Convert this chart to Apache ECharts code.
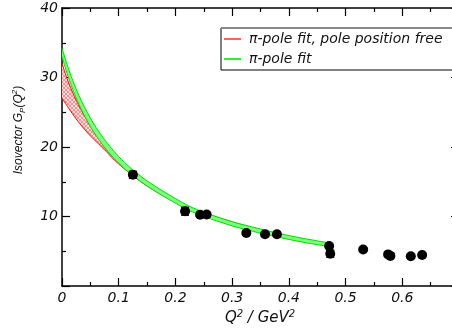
<!DOCTYPE html>
<html><head><meta charset="utf-8">
<script src="https://cdn.jsdelivr.net/npm/echarts@6/dist/echarts.min.js"></script>
<style>html,body{margin:0;padding:0;background:#fff}#c{width:452px;height:333px}</style>
</head><body><div id="c"></div>
<script>
// ---- data ----
const xTicks = [0, 0.1, 0.2, 0.3, 0.4, 0.5, 0.6, 0.7];
const yTicks = [0, 10, 20, 30, 40];
const qFit = [0,0.01,0.02,0.03,0.04,0.05,0.06,0.07,0.08,0.09,0.10,0.11,0.125,0.15,0.175,0.20,0.225,0.25,0.275,0.30,0.325,0.35,0.375,0.40,0.425,0.45,0.47];
const greenUpper = [34.2,31.6,29.35,27.4,25.68,24.16,22.83,21.62,20.52,19.54,18.62,17.8,16.68,15.12,13.8,12.58,11.46,10.6,9.9,9.25,8.7,8.2,7.7,7.26,6.86,6.5,6.22];
const greenLower = [33.0,30.32,28.05,26.1,24.42,22.94,21.65,20.48,19.44,18.5,17.66,16.88,15.86,14.38,13.1,11.92,10.84,10.0,9.3,8.65,8.1,7.6,7.14,6.7,6.3,5.94,5.68];
const redUpper = [32.0,29.6,27.6,25.9,24.4,23.0,21.7,20.55,19.5,18.55,17.7,16.95,15.95,14.55,13.35,12.3,11.35,10.5,9.85,9.22,8.65,8.12,7.6,7.12,6.68,6.27,5.97];
const redLower = [27.0,25.8,24.6,23.5,22.5,21.6,20.8,20.0,19.2,18.3,17.55,16.85,15.85,14.4,13.15,12.05,11.1,10.3,9.65,9.02,8.47,7.95,7.45,6.98,6.55,6.15,5.85];
const qData = [0.125,0.217,0.2435,0.255,0.325,0.358,0.379,0.471,0.473,0.531,0.575,0.579,0.615,0.635];
const gData = [16.0,10.75,10.25,10.3,7.63,7.44,7.44,5.75,4.65,5.24,4.55,4.33,4.28,4.45];
const gErr  = [0.5,0.55,0.3,0.3,0.3,0.3,0.3,0.3,0.5,0.25,0.25,0.25,0.25,0.25];
const nameRed = 'π-pole fit, pole position free';
const nameGreen = 'π-pole fit';

// hatch pattern for red band
const pc = document.createElement('canvas'); pc.width = 4; pc.height = 4;
const px = pc.getContext('2d');
px.fillStyle = '#ffe4e4'; px.fillRect(0,0,4,4);
px.strokeStyle = '#ff8c8c'; px.lineWidth = 1;
px.beginPath(); px.moveTo(0,4); px.lineTo(4,0); px.moveTo(0,0); px.lineTo(4,4); px.stroke();

const FONT = 'DejaVu Sans';
function band(upper, lower, fill, z) {
  return {
    type: 'custom', silent: true, z: z, data: [[0, 0]],
    renderItem: function (params, api) {
      const pts = [];
      for (let i = 0; i < qFit.length; i++) pts.push(api.coord([qFit[i], upper[i]]));
      for (let i = qFit.length - 1; i >= 0; i--) pts.push(api.coord([qFit[i], lower[i]]));
      return { type: 'polygon', shape: { points: pts, smooth: 0 }, style: { fill: fill } };
    }
  };
}
function edge(name, arr, color, z) {
  return { type: 'line', name: name, z: z, silent: true, showSymbol: false, smooth: 0.2,
    data: qFit.map((q, i) => [q, arr[i]]),
    lineStyle: { color: color, width: 1 }, itemStyle: { color: color } };
}
const axisCommon = {
  axisLine: { show: true, onZero: false, lineStyle: { color: '#000', width: 1.5 } },
  axisTick: { show: true, inside: true, length: 8, lineStyle: { color: '#000', width: 1.2 } },
  minorTick: { show: true, splitNumber: 2, length: 4, lineStyle: { color: '#000', width: 1.2 } },
  splitLine: { show: false }
};
const labelStyle = { fontFamily: FONT, fontStyle: 'italic', fontSize: 14, color: '#111' };

const chart = echarts.init(document.getElementById('c'), null, { renderer: 'canvas' });
chart.setOption({
  animation: false,
  backgroundColor: '#fff',
  grid: { left: 62, right: -7, top: 8, bottom: 47, outerBoundsMode: 'none', containLabel: false },
  xAxis: [
    Object.assign({ type: 'value', min: xTicks[0], max: xTicks[xTicks.length - 1], interval: 0.1, position: 'bottom',
      axisLabel: Object.assign({ margin: 5, showMaxLabel: false,
        formatter: v => (v === 0 ? '0' : v.toFixed(1)) }, labelStyle) }, axisCommon),
    Object.assign({ type: 'value', min: xTicks[0], max: xTicks[xTicks.length - 1], interval: 0.1, position: 'top',
      axisLabel: { show: false } }, axisCommon)
  ],
  yAxis: [
    Object.assign({ type: 'value', min: yTicks[0], max: yTicks[yTicks.length - 1], interval: 10, position: 'left',
      axisLabel: Object.assign({ margin: 4, showMinLabel: false }, labelStyle) }, axisCommon),
    Object.assign({ type: 'value', min: yTicks[0], max: yTicks[yTicks.length - 1], interval: 10, position: 'right',
      axisLabel: { show: false } }, axisCommon)
  ],
  legend: {
    left: 221, top: 28, orient: 'vertical', padding: [3, 40, 3, 3], itemGap: 4,
    itemWidth: 17, itemHeight: 2, borderColor: '#000', borderWidth: 1, backgroundColor: '#fff',
    selectedMode: false,
    textStyle: { fontFamily: FONT, fontStyle: 'italic', fontSize: 14, color: '#111', lineHeight: 16, padding: [0, 0, 0, 3] },
    data: [
      { name: nameRed, icon: 'rect', itemStyle: { color: '#ff6060' } },
      { name: nameGreen, icon: 'rect', itemStyle: { color: '#33ee33' } }
    ]
  },
  graphic: [
    { type: 'line', z: 100, shape: { x1: 221, y1: 28, x2: 452, y2: 28 }, style: { stroke: '#888', lineWidth: 2 } },
    { type: 'text', x: 19, y: 130, rotation: Math.PI / 2,
      style: { text: '{a|Isovector G}{sub|P}{a|(Q}{sup|2}{a|)}', align: 'center', verticalAlign: 'middle',
        rich: {
          a: { fontFamily: 'Liberation Sans', fontStyle: 'italic', fontSize: 12, lineHeight: 16, fill: '#111' },
          sub: { fontFamily: 'Liberation Sans', fontStyle: 'italic', fontSize: 8, lineHeight: 8, verticalAlign: 'bottom', fill: '#111' },
          sup: { fontFamily: 'Liberation Sans', fontStyle: 'italic', fontSize: 8, lineHeight: 8, verticalAlign: 'top', fill: '#111' }
        } } },
    { type: 'text', x: 260, y: 318,
      style: { text: '{a|Q}{sup|2}{a| / GeV}{sup|2}', align: 'center', verticalAlign: 'middle',
        rich: {
          a: { fontFamily: FONT, fontStyle: 'italic', fontSize: 15, lineHeight: 18, fill: '#111' },
          sup: { fontFamily: FONT, fontStyle: 'italic', fontSize: 10, lineHeight: 10, verticalAlign: 'top', fill: '#111' }
        } } }
  ],
  series: [
    band(redUpper, redLower, { image: pc, repeat: 'repeat' }, 1),
    edge(nameRed, redUpper, '#ff0000', 2),
    edge(null, redLower, '#ff0000', 2),
    band(greenUpper, greenLower, '#7dff7d', 3),
    edge(nameGreen, greenUpper, '#00dd00', 4),
    edge(null, greenLower, '#00dd00', 4),
    {
      type: 'custom', z: 5, silent: true,
      data: qData.map((q, i) => [q, gData[i] - gErr[i], gData[i] + gErr[i]]),
      renderItem: function (params, api) {
        const lo = api.coord([api.value(0), api.value(1)]);
        const hi = api.coord([api.value(0), api.value(2)]);
        const st = { stroke: '#000', lineWidth: 1.5 };
        return { type: 'group', children: [
          { type: 'line', shape: { x1: lo[0], y1: lo[1], x2: hi[0], y2: hi[1] }, style: st },
          { type: 'line', shape: { x1: lo[0] - 4, y1: lo[1], x2: lo[0] + 4, y2: lo[1] }, style: st },
          { type: 'line', shape: { x1: hi[0] - 4, y1: hi[1], x2: hi[0] + 4, y2: hi[1] }, style: st }
        ] };
      }
    },
    { type: 'scatter', z: 6, silent: true, symbol: 'circle', symbolSize: 10,
      itemStyle: { color: '#000', opacity: 1 }, data: qData.map((q, i) => [q, gData[i]]) }
  ]
});
</script></body></html>
